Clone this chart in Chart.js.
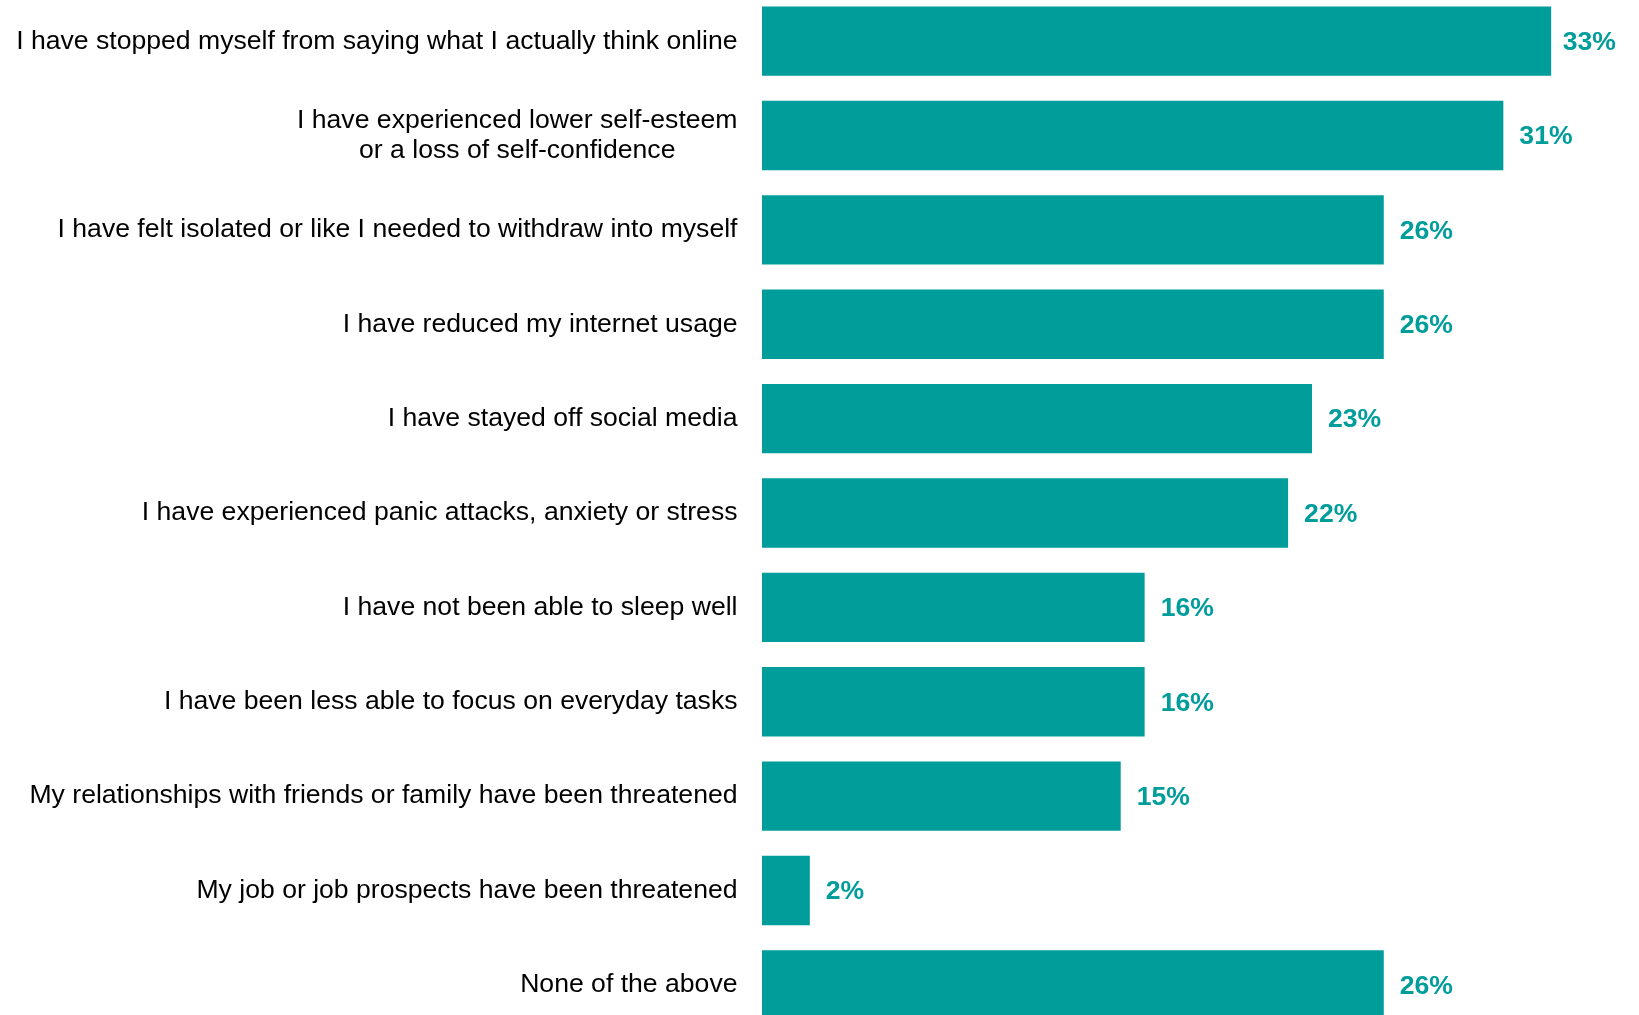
<!DOCTYPE html>
<html>
<head>
<meta charset="utf-8">
<title>Effects of online abuse</title>
<script src="https://cdn.jsdelivr.net/npm/chart.js@4/dist/chart.umd.min.js"></script>
<style>
  html, body {
    margin: 0;
    padding: 0;
    background: #ffffff;
    overflow: hidden;
  }
  #wrap {
    position: absolute;
    left: 0;
    top: -6px;
    width: 1639px;
    height: 1038px;
  }
</style>
</head>
<body>
<div id="wrap"><canvas id="effectsChart"></canvas></div>
<script>
// Responses, top to bottom
const categories = [
  ["I have stopped myself from saying what I actually think online"],
  ["I have experienced lower self-esteem", "or a loss of self-confidence"],
  ["I have felt isolated or like I needed to withdraw into myself"],
  ["I have reduced my internet usage"],
  ["I have stayed off social media"],
  ["I have experienced panic attacks, anxiety or stress"],
  ["I have not been able to sleep well"],
  ["I have been less able to focus on everyday tasks"],
  ["My relationships with friends or family have been threatened"],
  ["My job or job prospects have been threatened"],
  ["None of the above"],
];

// Share of respondents (%)
const percentages = [33, 31, 26, 26, 23, 22, 16, 16, 15, 2, 26];

const TEAL = "#009d9b";
const FONT = '"Liberation Sans", Arial, sans-serif';
const FONT_SIZE = 26.6;

// Category labels: block right-aligned to the axis, lines centred within the block
const categoryLabels = {
  id: "categoryLabels",
  afterDraw(chart) {
    const ctx = chart.ctx;
    const yScale = chart.scales.y;
    const right = chart.chartArea.left - 24.5;
    const lineHeight = 30;

    ctx.save();
    ctx.font = `${FONT_SIZE}px ${FONT}`;
    ctx.fillStyle = "#000000";
    ctx.textAlign = "center";
    ctx.textBaseline = "middle";

    categories.forEach((lines, i) => {
      const y = yScale.getPixelForValue(i);
      const widest = Math.max(...lines.map((l) => ctx.measureText(l).width));
      const cx = right - widest / 2;
      const top = y - ((lines.length - 1) * lineHeight) / 2;
      lines.forEach((line, j) => {
        ctx.fillText(line, cx, top + j * lineHeight);
      });
    });
    ctx.restore();
  },
};

// Percentage labels just past the end of each bar, kept clear of the right edge
const valueLabels = {
  id: "valueLabels",
  afterDatasetsDraw(chart) {
    const ctx = chart.ctx;
    const meta = chart.getDatasetMeta(0);
    const maxRight = chart.width - 23;

    ctx.save();
    ctx.font = `bold ${FONT_SIZE}px ${FONT}`;
    ctx.fillStyle = TEAL;
    ctx.textAlign = "left";
    ctx.textBaseline = "middle";
    meta.data.forEach((bar, i) => {
      const text = `${percentages[i]}%`;
      const w = ctx.measureText(text).width;
      const x = Math.min(bar.x + 16, maxRight - w);
      ctx.fillText(text, x, bar.y + 1.5);
    });
    ctx.restore();
  },
};

new Chart(document.getElementById("effectsChart"), {
  type: "bar",
  data: {
    labels: categories.map((c) => c.join(" ")),
    datasets: [
      {
        data: percentages,
        backgroundColor: TEAL,
        borderWidth: 0,
        barPercentage: 0.735,
        categoryPercentage: 1,
      },
    ],
  },
  options: {
    indexAxis: "y",
    responsive: true,
    maintainAspectRatio: false,
    animation: false,
    layout: {
      padding: { left: 762, right: 40, top: 0, bottom: 0 },
    },
    plugins: {
      legend: { display: false },
      tooltip: { enabled: false },
    },
    scales: {
      x: {
        display: false,
        min: 0,
        max: 35,
      },
      y: {
        display: false,
      },
    },
  },
  plugins: [categoryLabels, valueLabels],
});
</script>
</body>
</html>
